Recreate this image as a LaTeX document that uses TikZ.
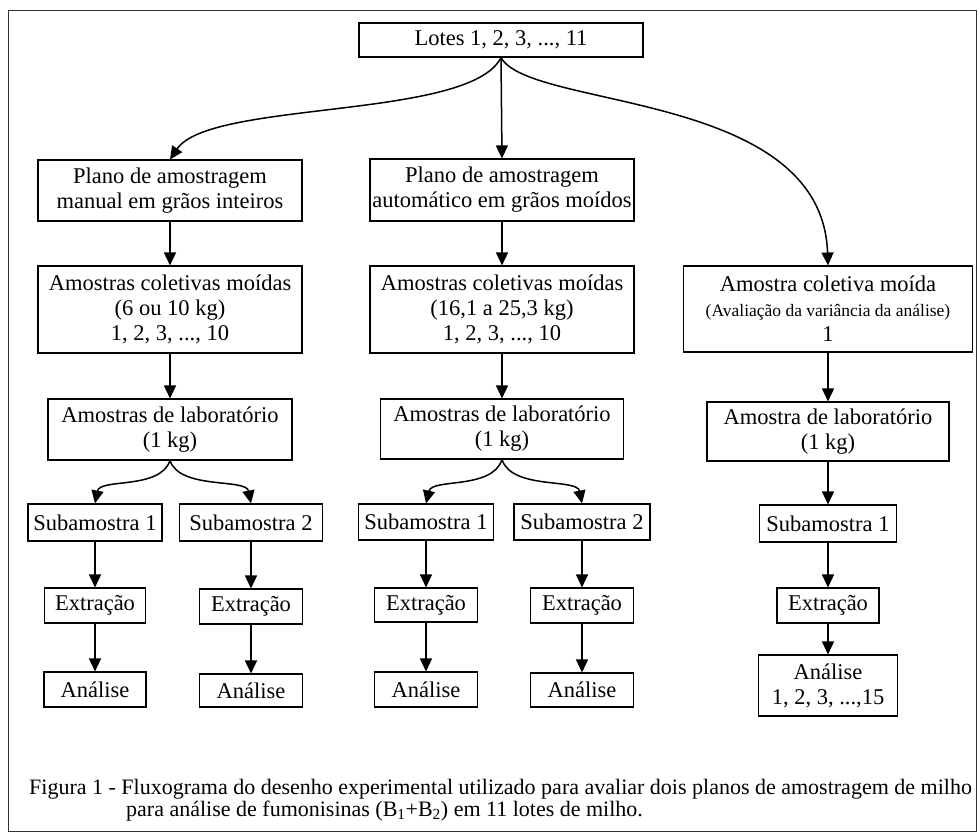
\documentclass[tikz,border=0pt]{standalone}
\usepackage{fontspec}
\setmainfont{Liberation Serif}
\usetikzlibrary{arrows.meta}

\begin{document}
\begin{tikzpicture}[x=1pt,y=-1pt,
    box/.style={draw,line width=1.1pt,align=center,inner sep=1pt,
        font=\fontsize{22.5}{25}\selectfont},
    flow/.style={-{Triangle[length=13pt,width=12pt]},line width=1.5pt}]
    \useasboundingbox (0,0) rectangle (980,832);
    \draw[line width=0.9pt,black!80] (8,10) rectangle (976,831);

    % top
    \node[box,minimum width=284pt,minimum height=34pt] (lotes) at (501,40) {Lotes 1, 2, 3, ..., 11};

    % first column: manual
    \node[box,minimum width=264pt,minimum height=61pt] (planoA) at (170,190.5) {Plano de amostragem\\manual em grãos inteiros};
    \node[box,minimum width=264pt,minimum height=87pt] (coletA) at (170,309.5) {Amostras coletivas moídas\\(6 ou 10 kg)\\1, 2, 3, ..., 10};
    \node[box,minimum width=244pt,minimum height=61pt] (labA) at (170,429.5) {Amostras de laboratório\\(1 kg)};
    \node[box,minimum width=134pt,minimum height=37pt] (subA1) at (95,522.5) {Subamostra 1};
    \node[box,minimum width=143pt,minimum height=37pt] (subA2) at (251,522.5) {Subamostra 2};
    \node[box,minimum width=101pt,minimum height=35pt] (extA1) at (95,605.5) {Extração};
    \node[box,minimum width=103pt,minimum height=35pt] (extA2) at (251,606.5) {Extração};
    \node[box,minimum width=102pt,minimum height=35pt] (anaA1) at (95,689.5) {Análise};
    \node[box,minimum width=103pt,minimum height=33pt] (anaA2) at (251,690.5) {Análise};

    % second column: automatic
    \node[box,minimum width=264pt,minimum height=62pt] (planoB) at (502,190) {Plano de amostragem\\automático em grãos moídos};
    \node[box,minimum width=264pt,minimum height=87pt] (coletB) at (502,309.5) {Amostras coletivas moídas\\(16,1 a 25,3 kg)\\1, 2, 3, ..., 10};
    \node[box,minimum width=243pt,minimum height=60pt] (labB) at (502,429) {Amostras de laboratório\\(1 kg)};
    \node[box,minimum width=135pt,minimum height=36pt] (subB1) at (426,522) {Subamostra 1};
    \node[box,minimum width=136pt,minimum height=36pt] (subB2) at (582,522) {Subamostra 2};
    \node[box,minimum width=103pt,minimum height=34pt] (extB1) at (426,605) {Extração};
    \node[box,minimum width=103pt,minimum height=35pt] (extB2) at (582,605.5) {Extração};
    \node[box,minimum width=103pt,minimum height=35pt] (anaB1) at (426,689.5) {Análise};
    \node[box,minimum width=103pt,minimum height=34pt] (anaB2) at (582,690) {Análise};

    % third column: variance of the analysis
    \node[box,minimum width=289pt,minimum height=86pt] (coletC) at (828,309) {Amostra coletiva moída\\{\fontsize{17.5}{25}\selectfont (Avaliação da variância da análise)}\\1};
    \node[box,minimum width=242pt,minimum height=59pt] (labC) at (828,431.5) {Amostra de laboratório\\(1 kg)};
    \node[box,minimum width=137pt,minimum height=37pt] (subC) at (828,523.5) {Subamostra 1};
    \node[box,minimum width=102pt,minimum height=35pt] (extC) at (828,605.5) {Extração};
    \node[box,minimum width=139pt,minimum height=61pt] (anaC) at (828,685.5) {Análise\\1, 2, 3, ...,15};

    % arrows from the lots
    \draw[flow] (lotes.south) .. controls (470,120) and (210,100) .. (planoA.north);
    \draw[flow] (lotes.south) -- (planoB.north);
    \draw[flow] (lotes.south) .. controls (530,110) and (822,90) .. (coletC.north);

    \draw[flow] (planoA) -- (coletA);
    \draw[flow] (coletA) -- (labA);
    \draw[flow] (labA.south) .. controls (160,490) and (100,478) .. (subA1.north);
    \draw[flow] (labA.south) .. controls (180,490) and (246,478) .. (subA2.north);
    \draw[flow] (subA1) -- (extA1);
    \draw[flow] (subA2) -- (extA2);
    \draw[flow] (extA1) -- (anaA1);
    \draw[flow] (extA2) -- (anaA2);

    \draw[flow] (planoB) -- (coletB);
    \draw[flow] (coletB) -- (labB);
    \draw[flow] (labB.south) .. controls (492,490) and (432,478) .. (subB1.north);
    \draw[flow] (labB.south) .. controls (512,490) and (577,478) .. (subB2.north);
    \draw[flow] (subB1) -- (extB1);
    \draw[flow] (subB2) -- (extB2);
    \draw[flow] (extB1) -- (anaB1);
    \draw[flow] (extB2) -- (anaB2);

    \draw[flow] (coletC) -- (labC);
    \draw[flow] (labC) -- (subC);
    \draw[flow] (subC) -- (extC);
    \draw[flow] (extC) -- (anaC);

    % caption
    \node[anchor=west,inner sep=0pt,font=\fontsize{22}{22}\selectfont] (cap) at (29,789) {Figura 1 - Fluxograma do desenho experimental utilizado para avaliar dois planos de amostragem de milho};
    \node[anchor=west,inner sep=0pt,font=\fontsize{22}{22}\selectfont] (capb) at (126,811) {para análise de fumonisinas (B\textsubscript{1}+B\textsubscript{2}) em 11 lotes de milho.};
\end{tikzpicture}
\end{document}
